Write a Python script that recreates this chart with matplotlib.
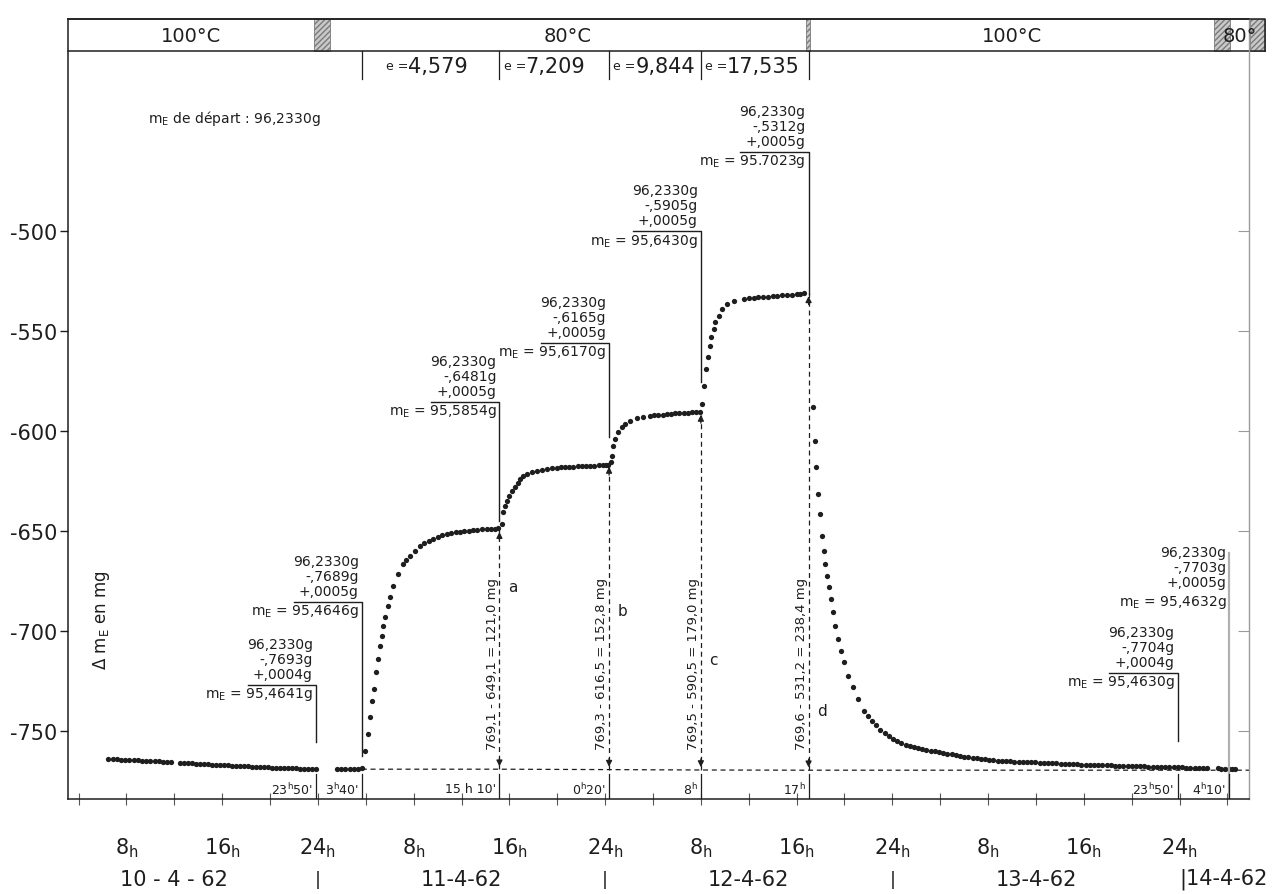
import matplotlib
matplotlib.use("Agg")
import matplotlib.pyplot as plt
import matplotlib.transforms as mtransforms
from matplotlib.patches import Rectangle

plt.rcParams['font.family'] = ['DejaVu Sans']
plt.rcParams['axes.unicode_minus'] = False

INK = '#1e1e1e'

# time in hours counted from 0h on 10-4-62, delta m_E in mg
seg1_t = [6.5, 6.85, 7.2, 7.55, 7.9, 8.25, 8.6, 8.95, 9.3, 9.65, 10.0, 10.35, 10.7, 11.05, 11.4, 11.7]
seg1_dm = [-764.0, -764.1, -764.1, -764.3, -764.4, -764.4, -764.6, -764.7, -764.8, -764.8, -765.0, -765.1,
           -765.1, -765.3, -765.4, -765.5]

seg2_t = [12.5, 12.83, 13.17, 13.5, 13.83, 14.17, 14.5, 14.83, 15.17, 15.5, 15.83, 16.17, 16.5, 16.83, 17.17,
          17.5, 17.83, 18.17, 18.5, 18.83, 19.17, 19.5, 19.83, 20.17, 20.5, 20.83, 21.17, 21.5, 21.83, 22.17,
          22.5, 22.83, 23.17, 23.5, 23.83]
seg2_dm = [-766.0, -766.1, -766.2, -766.2, -766.4, -766.5, -766.6, -766.6, -766.8, -766.9, -767.0, -767.0,
           -767.2, -767.3, -767.4, -767.4, -767.6, -767.7, -767.8, -767.8, -768.0, -768.1, -768.1, -768.3,
           -768.4, -768.4, -768.5, -768.6, -768.6, -768.7, -768.8, -768.8, -768.9, -768.9, -769.0]

seg3_t = [25.6, 25.95, 26.3, 26.65, 27.0, 27.35, 27.67]
seg3_dm = [-769.2, -769.0, -769.0, -768.9, -768.8, -768.8, -768.5]

# e = 4,579
seg4_t = [27.93, 28.18, 28.35, 28.51, 28.68, 28.85, 29.01, 29.18, 29.35, 29.43, 29.6, 29.85, 30.02, 30.27,
          30.68, 31.1, 31.4, 31.69, 32.1, 32.52, 32.9, 33.25, 33.61, 34.0, 34.4, 34.78, 35.15, 35.5, 35.87,
          36.2, 36.6, 36.95, 37.3, 37.7, 38.12, 38.5, 38.8, 39.04]
seg4_dm = [-760.0, -751.5, -743.0, -735.0, -729.0, -720.5, -714.0, -707.5, -702.5, -697.5, -693.0, -687.5,
           -683.0, -677.5, -671.5, -666.5, -664.5, -662.5, -660.0, -657.5, -656.0, -655.0, -654.0, -653.0,
           -652.2, -651.5, -651.0, -650.7, -650.5, -650.2, -649.8, -649.5, -649.3, -649.2, -649.0, -648.9,
           -648.8, -648.5]

# e = 7,209
seg5_t = [39.37, 39.45, 39.62, 39.79, 39.96, 40.21, 40.46, 40.7, 40.88, 41.15, 41.46, 41.85, 42.3, 42.7,
          43.13, 43.55, 43.97, 44.3, 44.65, 45.0, 45.35, 45.7, 46.05, 46.4, 46.75, 47.1, 47.45, 47.8, 48.1,
          48.28]
seg5_dm = [-646.5, -640.5, -637.5, -635.0, -632.5, -630.0, -628.0, -626.0, -624.0, -622.7, -621.5, -620.7,
           -620.0, -619.5, -619.0, -618.6, -618.3, -618.1, -618.0, -617.9, -617.8, -617.7, -617.6, -617.5,
           -617.4, -617.3, -617.2, -617.1, -617.0, -616.8]

# e = 9,844
seg6_t = [48.45, 48.56, 48.65, 48.81, 49.06, 49.4, 49.65, 50.07, 50.65, 51.15, 51.74, 52.1, 52.45, 52.8,
          53.15, 53.5, 53.85, 54.2, 54.55, 54.9, 55.25, 55.6, 55.9]
seg6_dm = [-615.5, -612.5, -607.5, -604.0, -600.5, -598.0, -596.5, -595.0, -593.5, -593.0, -592.5, -592.2,
           -592.0, -591.8, -591.6, -591.4, -591.2, -591.0, -590.9, -590.8, -590.7, -590.6, -590.5]

# e = 17,535
seg7_t = [56.1, 56.25, 56.45, 56.6, 56.75, 56.85, 57.1, 57.2, 57.55, 57.8, 58.2, 58.75, 59.6, 60.0, 60.4,
          60.8, 61.2, 61.6, 62.0, 62.4, 62.8, 63.2, 63.6, 64.0, 64.3, 64.6]
seg7_dm = [-586.5, -577.5, -569.0, -563.0, -557.5, -553.0, -549.0, -545.5, -542.5, -539.0, -536.5, -535.0,
           -534.0, -533.7, -533.4, -533.2, -533.0, -532.8, -532.6, -532.4, -532.2, -532.0, -531.8, -531.6,
           -531.4, -531.2]

# back to 100 C
seg8_t = [65.35, 65.5, 65.65, 65.8, 65.95, 66.1, 66.25, 66.4, 66.55, 66.7, 66.85, 67.0, 67.2, 67.45, 67.7,
          67.95, 68.3, 68.7, 69.1, 69.6, 69.95, 70.3, 70.65, 71.0, 71.35, 71.7, 72.05, 72.4, 72.75, 73.1,
          73.45, 73.8, 74.15, 74.5, 74.85, 75.2, 75.55, 75.9, 76.25, 76.6, 76.95, 77.3, 77.65, 78.0, 78.35,
          78.7, 79.05, 79.4, 79.75, 80.1, 80.45, 80.8, 81.15, 81.5, 81.85, 82.2, 82.55, 82.9, 83.25, 83.6,
          83.95, 84.3, 84.65, 85.0, 85.35, 85.7, 86.05, 86.4, 86.75, 87.1, 87.45, 87.8, 88.15, 88.5, 88.85,
          89.2, 89.55, 89.9, 90.25, 90.6, 90.95, 91.3, 91.65, 92.0, 92.35, 92.7, 93.05, 93.4, 93.75, 94.1,
          94.45, 94.8, 95.15, 95.5, 95.85, 96.2, 96.55, 96.9, 97.25, 97.6, 97.95, 98.3]
seg8_dm = [-588.0, -605.0, -618.0, -631.5, -641.5, -652.5, -660.0, -666.5, -672.5, -678.0, -684.0, -690.5,
           -697.5, -704.0, -710.0, -715.5, -722.5, -728.0, -734.0, -740.0, -742.5, -745.0, -747.0, -749.5,
           -751.0, -752.5, -754.0, -755.0, -756.0, -756.8, -757.3, -757.8, -758.3, -758.8, -759.3, -759.8,
           -760.2, -760.6, -761.0, -761.3, -761.7, -762.0, -762.4, -762.8, -763.1, -763.4, -763.7, -764.0,
           -764.2, -764.4, -764.6, -764.8, -765.0, -765.1, -765.2, -765.3, -765.4, -765.5, -765.5, -765.6,
           -765.7, -765.8, -765.9, -766.0, -766.1, -766.2, -766.3, -766.4, -766.5, -766.6, -766.7, -766.8,
           -766.8, -766.9, -767.0, -767.0, -767.1, -767.2, -767.2, -767.3, -767.4, -767.4, -767.5, -767.5,
           -767.6, -767.7, -767.7, -767.8, -767.8, -767.9, -768.0, -768.0, -768.1, -768.1, -768.2, -768.2,
           -768.3, -768.3, -768.4, -768.4, -768.5, -768.5]

seg9_t = [99.2, 99.5, 99.8, 100.1, 100.4, 100.65]
seg9_dm = [-768.7, -768.8, -768.8, -768.9, -769.0, -769.0]

segments = [(seg1_t, seg1_dm), (seg2_t, seg2_dm), (seg3_t, seg3_dm), (seg4_t, seg4_dm), (seg5_t, seg5_dm),
            (seg6_t, seg6_dm), (seg7_t, seg7_dm), (seg8_t, seg8_dm), (seg9_t, seg9_dm)]

# temperature band
temp_edges = [3.12, 23.67, 25.0, 64.8, 65.1, 98.9, 100.2, 101.9, 103.1]
temp_labels = ['100°C', None, '80°C', None, '100°C', None, '80°', None]

# weighing intervals with sample thickness e
e_edges = [27.67, 39.17, 48.33, 56.0, 65.0]
e_values = ['4,579', '7,209', '9,844', '17,535']

# bottom time markers
mark_t = [23.83, 27.67, 39.17, 48.33, 56.0, 65.0, 95.83, 100.17]
mark_lbl = [r"23$^{\mathregular{h}}$50'", r"3$^{\mathregular{h}}$40'", "15 h 10'", r"0$^{\mathregular{h}}$20'",
            r"8$^{\mathregular{h}}$", r"17$^{\mathregular{h}}$", r"23$^{\mathregular{h}}$50'",
            r"4$^{\mathregular{h}}$10'"]

# weighings
w_t = [23.83, 27.67, 39.17, 48.33, 56.0, 65.0, 95.83, 100.17]
w_minus = ['-,7693g', '-,7689g', '-,6481g', '-,6165g', '-,5905g', '-,5312g', '-,7704g', '-,7703g']
w_plus = ['+,0004g', '+,0005g', '+,0005g', '+,0005g', '+,0005g', '+,0005g', '+,0004g', '+,0005g']
w_me = ['95,4641g', '95,4646g', '95,5854g', '95,6170g', '95,6430g', '95.7023g', '95,4630g', '95,4632g']
w_top = [-727, -685.5, -585.5, -556, -500, -460.5, -721, -681]
w_bottom = [-755.5, -762.5, -645, -603, -575.5, -531.5, -755, None]

# differences at the end of each step
arr_t = [39.17, 48.33, 56.0, 65.0]
arr_base = [-769.1, -769.3, -769.5, -769.6]
arr_top = [-649.1, -616.5, -590.5, -531.2]
arr_txt = ['769,1 - 649,1 = 121,0 mg', '769,3 - 616,5 = 152,8 mg', '769,5 - 590,5 = 179,0 mg',
           '769,6 - 531,2 = 238,4 mg']
arr_letter = ['a', 'b', 'c', 'd']
letter_y = [-678, -690, -714.5, -740]

yticks = [-500, -550, -600, -650, -700, -750]
hour_ticks = [8, 16, 24, 32, 40, 48, 56, 64, 72, 80, 88, 96]
hour_lbl = ['8', '16', '24', '8', '16', '24', '8', '16', '24', '8', '16', '24']
dates = ['10 - 4 - 62', '11-4-62', '12-4-62', '13-4-62']
date_t = [12, 36, 60, 84]

XMIN, XMAX = 3.12, 101.8
YMIN, YMAX = -784, -394
BAND_LO = -410

fig = plt.figure(figsize=(12.75, 8.95), dpi=100)
ax = fig.add_axes([68 / 1275, 95 / 895, (1249 - 68) / 1275, 780 / 895])
ax.set_xlim(XMIN, XMAX)
ax.set_ylim(YMIN, YMAX)

for sp in ['left', 'bottom', 'top']:
    ax.spines[sp].set_color(INK)
    ax.spines[sp].set_linewidth(1.1)
ax.spines['right'].set_color('#9a9a9a')
ax.spines['right'].set_linewidth(1.0)

ax.set_yticks(yticks)
ax.set_yticklabels([str(v) for v in yticks], fontsize=15, color=INK)
ax.tick_params(axis='y', direction='out', length=6, width=1, color=INK, pad=2)
ax.set_xticks(list(range(4, 101, 4)))
ax.set_xticklabels([])
ax.tick_params(axis='x', direction='inout', length=8, width=0.8, color='#555555')

axr = ax.twinx()
axr.set_ylim(YMIN, YMAX)
axr.set_yticks(yticks)
axr.set_yticklabels([])
axr.tick_params(axis='y', direction='in', length=8, color='#9a9a9a')
for sp in axr.spines.values():
    sp.set_visible(False)

# data points
for t, dm in segments:
    ax.plot(t, dm, 'o', color=INK, ms=3.8, mew=0)

# dashed baseline
ax.plot([e_edges[0]] + arr_t + [XMAX], [arr_base[0]] + arr_base + [arr_base[-1]],
        ls=(0, (4, 3)), lw=0.9, color=INK)

# double arrows and differences
for x, b, top, txt, let, ly in zip(arr_t, arr_base, arr_top, arr_txt, arr_letter, letter_y):
    ax.plot([x, x], [b, top], ls=(0, (4, 3)), lw=0.9, color=INK)
    ax.annotate('', xy=(x, b), xytext=(x, b + 7),
                arrowprops=dict(arrowstyle='-|>', color=INK, lw=0.9, mutation_scale=9))
    ax.annotate('', xy=(x, top), xytext=(x, top - 7),
                arrowprops=dict(arrowstyle='-|>', color=INK, lw=0.9, mutation_scale=9))
    ax.text(x - 0.6, -716, txt, rotation=90, ha='center', va='center', fontsize=9.5, color=INK)
    ax.text(x + 0.7, ly, let, ha='left', va='center', fontsize=11, color=INK)

# weighing blocks
for x, mi, pl, me, top, bot in zip(w_t, w_minus, w_plus, w_me, w_top, w_bottom):
    lines = [('96,2330g', 41), (mi, 26), (pl, 11)]
    for s, dy in lines:
        ax.annotate(s, xy=(x, top), xytext=(-3, dy), textcoords='offset pixels',
                    ha='right', va='center', fontsize=10, color=INK)
    ax.annotate(r'm$_{\mathregular{E}}$ = ' + me, xy=(x, top), xytext=(-3, -9),
                textcoords='offset pixels', ha='right', va='center', fontsize=10, color=INK)
    if bot is not None:
        ax.plot([x - 5.7, x, x], [top, top, bot], color=INK, lw=1.0)
    else:
        ax.plot([x, x], [top + 20, YMIN], color='#b0b0b0', lw=1.6)

ax.text(9.8, -443, r'm$_{\mathregular{E}}$ de départ : 96,2330g', fontsize=10, color=INK,
        ha='left', va='center')
ax.text(5.9, -694, r'$\Delta$ m$_{\mathregular{E}}$ en mg', rotation=90, fontsize=12, color=INK,
        ha='center', va='center')

# bottom time markers
for x, s in zip(mark_t, mark_lbl):
    ax.plot([x, x], [-771.5, YMIN], color=INK, lw=0.9)
    ax.text(x - 0.25, -779, s, ha='right', va='center', fontsize=9, color=INK)

# temperature band
ax.plot([XMIN, temp_edges[-1]], [BAND_LO, BAND_LO], color=INK, lw=1.1, clip_on=False)
ax.plot([XMIN, temp_edges[-1], temp_edges[-1]], [YMAX, YMAX, BAND_LO], color=INK, lw=1.1,
        clip_on=False)
for i, lbl in enumerate(temp_labels):
    x0, x1 = temp_edges[i], temp_edges[i + 1]
    if lbl is None:
        ax.add_patch(Rectangle((x0, BAND_LO), x1 - x0, YMAX - BAND_LO, facecolor='#c9c9c9',
                               edgecolor='#7a7a7a', hatch='//////', lw=0.6, clip_on=False))
    else:
        ax.text((x0 + x1) / 2, (YMAX + BAND_LO) / 2, lbl, ha='center', va='center', fontsize=14,
                color=INK, clip_on=False)

# e row
for x in e_edges:
    ax.plot([x, x], [BAND_LO, -424], color=INK, lw=0.9)
for i, v in enumerate(e_values):
    x0 = e_edges[i]
    pad = 2.0 if i == 0 else 0.35
    ax.annotate('e =', xy=(x0 + pad, -417.5), fontsize=9, ha='left', va='center', color=INK)
    ax.annotate(v, xy=(x0 + pad, -417.5), xytext=(22, 0), textcoords='offset pixels',
                fontsize=15, ha='left', va='center', color=INK)

# hour labels and dates below the axis
trans = mtransforms.blended_transform_factory(ax.transData, ax.transAxes)
for h, s in zip(hour_ticks, hour_lbl):
    ax.text(h, -0.062, s + r'$_{\mathregular{h}}$', transform=trans, ha='center', va='center',
            fontsize=15, color=INK)
for h, s in zip(date_t, dates):
    ax.text(h, -0.102, s, transform=trans, ha='center', va='center', fontsize=15, color=INK)
for h in [24, 48, 72]:
    ax.text(h, -0.102, '|', transform=trans, ha='center', va='center', fontsize=13, color=INK)
ax.text(96, -0.102, '|14-4-62', transform=trans, ha='left', va='center', fontsize=15, color=INK)

fig.savefig('out.png', dpi=100, facecolor='white')
